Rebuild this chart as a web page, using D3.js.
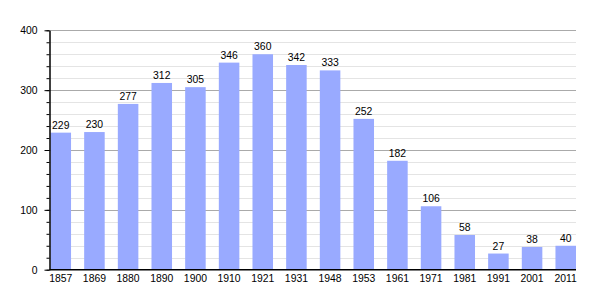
<!DOCTYPE html>
<html>
<head>
<meta charset="utf-8">
<script src="https://cdn.jsdelivr.net/npm/d3@7"></script>
<style>
  body { margin: 0; background: #fff; }
  text { font-family: "Liberation Sans", Arial, sans-serif; }
</style>
</head>
<body>
<div id="chart"></div>
<script>
const years = ["1857", "1869", "1880", "1890", "1900", "1910", "1921", "1931", "1948", "1953", "1961", "1971", "1981", "1991", "2001", "2011"];
const population = [229, 230, 277, 312, 305, 346, 360, 342, 333, 252, 182, 106, 58, 27, 38, 40];
const majorTicks = [0, 100, 200, 300, 400];
const minorTicks = d3.range(0, 401, 20);

let width = 605;
let height = 300;
let margin = ({top: 30.3, right: 29, bottom: 30.3, left: 49.5});
let fontSize = 10.4;

let data = years.map((y, i) => ({year: y, value: population[i]}));

let x = d3.scaleBand()
    .domain(years)
    .range([margin.left + 1, width - margin.right])
    .paddingInner(0.39)
    .paddingOuter(0);

let y = d3.scaleLinear()
    .domain([0, 400])
    .range([height - margin.bottom, margin.top]);

const svg = d3.select("#chart").append("svg")
    .attr("width", width)
    .attr("height", height);

// minor grid
svg.append("g")
    .selectAll("line")
    .data(minorTicks.filter(d => d % 100 != 0))
    .join("line")
        .attr("x1", margin.left)
        .attr("x2", width - margin.right)
        .attr("y1", d => Math.round(y(d)) + 0.5)
        .attr("y2", d => Math.round(y(d)) + 0.5)
        .attr("stroke", "#e4e4e4");

// major grid
svg.append("g")
    .selectAll("line")
    .data(majorTicks.filter(d => d > 0))
    .join("line")
        .attr("x1", margin.left)
        .attr("x2", width - margin.right)
        .attr("y1", d => Math.round(y(d)) + 0.5)
        .attr("y2", d => Math.round(y(d)) + 0.5)
        .attr("stroke", "#aaaaaa");

svg.append("g")
        .attr("fill", "#99aaff")
    .selectAll("rect")
    .data(data)
    .join("rect")
        .attr("x", d => x(d.year))
        .attr("y", d => y(d.value))
        .attr("height", d => y(0) - y(d.value))
        .attr("width", x.bandwidth());

svg.append("g")
    .selectAll("text")
    .data(data)
    .join("text")
        .attr("x", d => x(d.year) + x.bandwidth() / 2)
        .attr("y", d => y(d.value) - 4)
        .attr("text-anchor", "middle")
        .attr("font-size", fontSize)
        .attr("fill", "#000")
        .text(d => d.value);

// y axis: minor ticks then major ticks with labels
svg.append("g")
    .attr("transform", `translate(${margin.left},0)`)
    .call(d3.axisLeft(y).tickValues(minorTicks).tickSize(3).tickFormat(""))
    .call(g => g.select(".domain").remove())
    .call(g => g.selectAll("line").attr("stroke", "#000"));

svg.append("g")
    .attr("transform", `translate(${margin.left},0)`)
    .call(d3.axisLeft(y).tickValues(majorTicks).tickSize(5).tickSizeOuter(0).tickPadding(7))
    .call(g => g.selectAll("text").attr("font-size", fontSize).attr("fill", "#000").attr("font-family", "Liberation Sans, Arial, sans-serif"))
    .call(g => g.select(".domain").attr("stroke", "#000").attr("stroke-width", 1.5));

svg.append("g")
    .attr("transform", `translate(0,${height - margin.bottom})`)
    .call(d3.axisBottom(x).tickSize(0).tickSizeOuter(0).tickPadding(5))
    .call(g => g.select(".domain").attr("stroke", "#000").attr("stroke-width", 1.5)
        .attr("d", `M${margin.left},0H${width - margin.right}`))
    .call(g => g.selectAll("text").attr("font-size", fontSize).attr("fill", "#000").attr("font-family", "Liberation Sans, Arial, sans-serif"));
</script>
</body>
</html>
